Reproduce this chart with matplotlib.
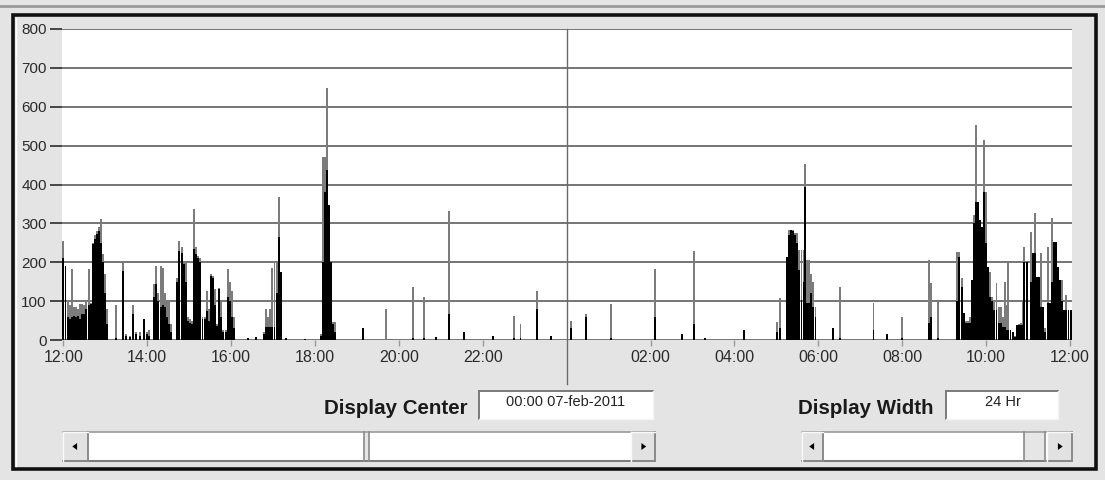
import matplotlib
matplotlib.use("Agg")
from matplotlib import pyplot as plt
from matplotlib.patches import Rectangle, Polygon

plt.rcParams['font.family'] = ['Liberation Sans', 'DejaVu Sans']

# minutes after 12:00 on 06-feb-2011, peak (grey) and mean (black) per bin
minutes = [0, 3, 6, 9, 12, 15, 18, 21, 24, 27, 30, 33, 36, 39, 42, 45, 48, 51, 54, 57, 60, 63,
           75, 85, 90, 95, 100, 104, 110, 115, 119, 123,
           130, 133, 136, 139, 142, 145, 148, 151, 154,
           163, 166, 169, 172, 175, 178, 181, 184, 187, 190, 193, 196, 199, 202, 205, 208,
           211, 214, 217, 220, 223, 226, 229, 232, 235, 238, 241, 244,
           264, 276,
           287, 290, 293, 296, 299, 302, 305, 308, 311, 318, 345,
           369, 372, 374, 377, 380, 383, 386, 389,
           429, 461, 500, 516, 533, 552, 573, 614, 644, 654, 678, 697, 726, 747, 783,
           847, 885, 902, 918, 974, 1021, 1025,
           1035, 1038, 1041, 1044, 1047, 1050, 1053, 1056, 1059, 1061, 1064, 1067, 1070, 1073, 1076,
           1101, 1111, 1159, 1178, 1200, 1238, 1241, 1251,
           1279, 1282, 1285, 1288, 1291, 1294, 1297, 1300, 1303, 1305, 1308, 1311, 1314, 1317,
           1320, 1323, 1326, 1329, 1332, 1335, 1338, 1341, 1344, 1347, 1350, 1352, 1355, 1358,
           1361, 1364, 1367, 1370, 1373, 1375, 1378, 1384, 1387, 1390, 1393, 1396, 1399, 1402,
           1405, 1408, 1411, 1414, 1417, 1420, 1423, 1426, 1429, 1432, 1435, 1438, 1441]
peak = [255, 190, 100, 90, 183, 84, 84, 80, 93, 93, 90, 100, 183, 95, 250, 270, 280, 290, 311, 220, 170, 80,
        91, 204, 15, 11, 91, 20, 20, 54, 20, 25,
        144, 191, 120, 191, 185, 120, 97, 100, 40,
        160, 255, 240, 200, 200, 60, 55, 50, 337, 240, 215, 210, 60, 60, 127, 80,
        170, 165, 130, 40, 135, 100, 25, 25, 183, 150, 127, 60,
        5, 8,
        20, 81, 60, 80, 184, 201, 201, 368, 176, 5, 3,
        15, 471, 471, 647, 347, 201, 47, 47,
        30, 81, 137, 110, 8, 333, 20, 10, 63, 41, 127, 10, 50, 67, 93,
        183, 15, 230, 5, 26, 47, 107,
        214, 283, 283, 283, 274, 274, 231, 231, 231, 454, 206, 206, 171, 150, 86,
        30, 137, 94, 15, 60, 206, 146, 99,
        227, 227, 160, 70, 50, 50, 60, 154, 321, 553, 356, 309, 291, 514,
        381, 189, 176, 111, 100, 146, 86, 86, 60, 150, 90, 201, 26, 20,
        10, 39, 40, 45, 100, 240, 201, 279, 223, 326, 163, 163, 223, 86,
        30, 240, 94, 313, 253, 253, 189, 154, 154, 77, 116, 77, 77]
mean = [210, 190, 60, 55, 60, 63, 60, 63, 55, 67, 67, 80, 90, 93, 247, 260, 272, 281, 250, 200, 120, 40,
        5, 178, 11, 8, 67, 15, 10, 54, 15, 10,
        110, 144, 100, 84, 90, 84, 60, 40, 20,
        150, 230, 225, 195, 150, 50, 45, 40, 234, 220, 212, 200, 55, 55, 75, 50,
        165, 160, 90, 35, 130, 60, 20, 20, 110, 100, 60, 30,
        5, 8,
        15, 34, 34, 34, 34, 34, 120, 266, 176, 5, 3,
        10, 200, 380, 437, 347, 201, 40, 20,
        30, 0, 5, 5, 8, 67, 20, 10, 5, 5, 80, 10, 30, 60, 5,
        58, 15, 41, 5, 26, 20, 30,
        214, 270, 283, 280, 270, 250, 180, 103, 150, 394, 94, 94, 120, 86, 60,
        30, 5, 26, 15, 5, 43, 60, 5,
        100, 214, 137, 69, 43, 43, 43, 154, 300, 356, 356, 309, 291, 381,
        250, 189, 111, 100, 77, 77, 43, 43, 34, 34, 26, 26, 26, 20,
        9, 39, 39, 39, 39, 201, 201, 150, 223, 223, 163, 163, 86, 86,
        20, 94, 94, 150, 253, 253, 189, 154, 100, 77, 77, 77, 77]

tick_minutes = [0, 120, 240, 360, 480, 600, 840, 960, 1080, 1200, 1320, 1440]
tick_labels = ['12:00', '14:00', '16:00', '18:00', '20:00', '22:00',
               '02:00', '04:00', '06:00', '08:00', '10:00', '12:00']
y_ticks = [0, 100, 200, 300, 400, 500, 600, 700, 800]

display_center = '00:00 07-feb-2011'
display_width = '24 Hr'

W, H = 1105, 480
BG = '#e4e4e4'

fig = plt.figure(figsize=(W / 100, H / 100), dpi=100)
fig.patch.set_facecolor(BG)

# background "window" layer in pixel coordinates
bg = fig.add_axes([0, 0, 1, 1], zorder=0)
bg.set_xlim(0, W)
bg.set_ylim(H, 0)
bg.axis('off')

bg.plot([0, W], [6, 6], color='#9a9a9a', lw=2)
bg.add_patch(Rectangle((13, 15), 1083, 454, fill=False, ec='#111111', lw=2.6))
bg.plot([16, 16], [18, 466], color='#ffffff', lw=1)


def sunken_box(x0, y0, x1, y1, face='white'):
    bg.add_patch(Rectangle((x0, y0), x1 - x0, y1 - y0, fc=face, ec='none'))
    bg.plot([x0, x1], [y0, y0], color='#7a7a7a', lw=1.4)
    bg.plot([x0, x0], [y0, y1], color='#7a7a7a', lw=1.4)
    bg.plot([x0, x1], [y1, y1], color='#f4f4f4', lw=1)
    bg.plot([x1, x1], [y0, y1], color='#f4f4f4', lw=1)


def button(x0, y0, x1, y1, direction):
    bg.add_patch(Rectangle((x0, y0), x1 - x0, y1 - y0, fc='#e2e2e2', ec='none'))
    bg.plot([x0, x1], [y1, y1], color='#8a8a8a', lw=1.4)
    bg.plot([x1, x1], [y0, y1], color='#8a8a8a', lw=1.4)
    bg.plot([x0, x1], [y0, y0], color='#fafafa', lw=1)
    bg.plot([x0, x0], [y0, y1], color='#fafafa', lw=1)
    cx, cy = (x0 + x1) / 2, (y0 + y1) / 2
    s = 3.2 * direction
    bg.add_patch(Polygon([(cx - s / 2, cy - 3.5), (cx - s / 2, cy + 3.5), (cx + s, cy)],
                         closed=True, fc='black', ec='none'))


def scrollbar(x0, x1, y0, y1, thumb0, thumb1):
    bg.add_patch(Rectangle((x0, y0), x1 - x0, y1 - y0, fc='white', ec='none'))
    bg.plot([x0, x1], [y0, y0], color='#9a9a9a', lw=1.2)
    bg.plot([x0, x1], [y1, y1], color='#7a7a7a', lw=1.4)
    bg.add_patch(Rectangle((thumb0, y0 + 1), thumb1 - thumb0, y1 - y0 - 2,
                           fc='#e6e6e6', ec='none'))
    bg.plot([thumb0, thumb0], [y0, y1], color='#8a8a8a', lw=1.2)
    bg.plot([thumb1, thumb1], [y0, y1], color='#8a8a8a', lw=1.2)


# Display Center widgets
bg.text(467, 409, 'Display Center', ha='right', va='center', fontsize=14.8,
        fontweight='bold', color='#1a1a1a')
sunken_box(479, 391, 653, 419)
bg.text(566, 402, display_center, ha='center', va='center', fontsize=10.5, color='#222222')
scrollbar(63, 655, 432, 461, 364, 369)
button(63, 432, 88, 461, -1)
button(631, 432, 655, 461, 1)

# Display Width widgets
bg.text(934, 409, 'Display Width', ha='right', va='center', fontsize=14.8,
        fontweight='bold', color='#1a1a1a')
sunken_box(946, 391, 1058, 419)
bg.text(1003, 402, display_width, ha='center', va='center', fontsize=10.5, color='#222222')
scrollbar(802, 1072, 432, 461, 1024, 1045)
button(802, 432, 823, 461, -1)
button(1047, 432, 1072, 461, 1)

# the histogram itself
left, right, top, bottom = 62, 1072, 29, 340
ax = fig.add_axes([left / W, 1 - bottom / H, (right - left) / W, (bottom - top) / H], zorder=1)
ax.set_facecolor('white')
ax.set_axisbelow(True)

ax.bar(minutes, peak, width=2.8, color='#7c7c7c', linewidth=0, align='center')
ax.bar(minutes, mean, width=2.8, color='#000000', linewidth=0, align='center')

ax.set_xlim(-2, 1443)
ax.set_ylim(0, 800)
ax.set_yticks(y_ticks)
ax.set_yticklabels([str(v) for v in y_ticks])
ax.set_xticks(tick_minutes)
ax.set_xticklabels(tick_labels)
ax.grid(axis='y', color='#6a6a6a', lw=1.3)
for s in ax.spines.values():
    s.set_visible(False)

ax.tick_params(axis='y', length=9, width=1.3, color='#3a3a3a', pad=2,
               labelsize=11, labelcolor='#2a2a2a')
ax.tick_params(axis='x', length=4, width=1, color='#9a9a9a', pad=3,
               labelsize=11.5, labelcolor='#2a2a2a')

# display-centre marker running down past the axis
ax.plot([720, 720], [800, -112], color='#6a6a6a', lw=1, clip_on=False)

fig.savefig('out.png', dpi=100, facecolor=fig.get_facecolor())
